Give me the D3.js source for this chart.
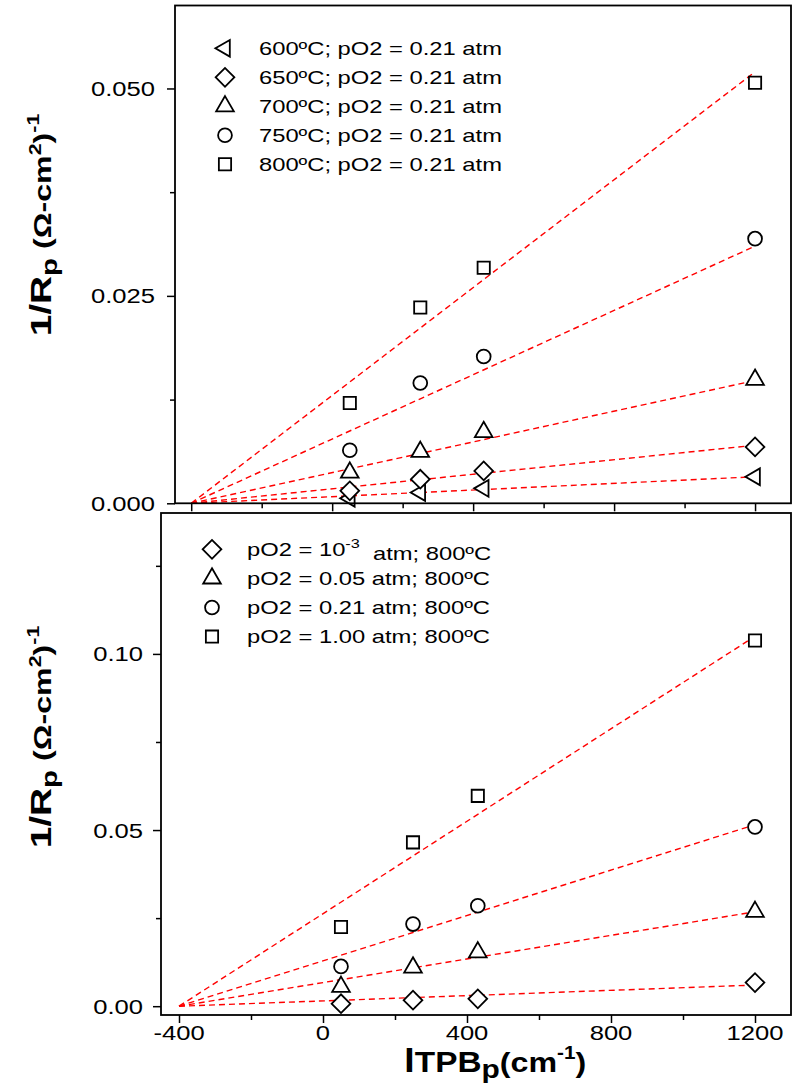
<!DOCTYPE html>
<html>
<head>
<meta charset="utf-8">
<script src="https://cdn.jsdelivr.net/npm/d3@7"></script>
<style>
  body { margin: 0; background: #fff; }
  svg { display: block; }
  text { font-family: "Liberation Sans", Arial, sans-serif; fill: #000; }
</style>
</head>
<body>
<svg id="chart" width="793" height="1086"></svg>
<script>
// shared x positions (l_TPB, cm^-1)
const xVals = [50, 250, 430, 1200]
const fitX = [-400, 1200]

// upper panel: temperature series, pO2 = 0.21 atm
const topNames = ['600ºC; pO2 = 0.21 atm', '650ºC; pO2 = 0.21 atm', '700ºC; pO2 = 0.21 atm',
    '750ºC; pO2 = 0.21 atm', '800ºC; pO2 = 0.21 atm']
const top600 = [0.0006, 0.0013, 0.0018, 0.0032]
const top650 = [0.0015, 0.0029, 0.0039, 0.0068]
const top700 = [0.0037, 0.0062, 0.0086, 0.0149]
const top750 = [0.0064, 0.0145, 0.0177, 0.0319]
const top800 = [0.0121, 0.0236, 0.0284, 0.0507]
// fitted lines: value at x = -400 and at x = 1200
const topFitStart = [0, 0, 0, 0, 0]
const topFitEnd = [0.0032, 0.0070, 0.0148, 0.0310, 0.0520]

// lower panel: pO2 series at 800 ºC
const botNames = ['pO2 = 10', 'pO2 = 0.05 atm; 800ºC', 'pO2 = 0.21 atm; 800ºC', 'pO2 = 1.00 atm; 800ºC']
const bot1e3 = [0.0007, 0.0017, 0.0021, 0.0067]
const bot005 = [0.0055, 0.0110, 0.0153, 0.0268]
const bot021 = [0.0113, 0.0233, 0.0285, 0.0509]
const bot100 = [0.0225, 0.0465, 0.0597, 0.1038]
const botFitStart = [0, 0, 0, 0]
const botFitEnd = [0.0060, 0.0268, 0.0515, 0.1050]

// axis ticks
const xMajor = [-400, 0, 400, 800, 1200]
const xMinor = [-200, 200, 600, 1000]
const xTickLabels = ['-400', '0', '400', '800', '1200']
const topYMajor = [0, 0.025, 0.05]
const topYMinor = [0.0125, 0.0375]
const topYLabels = ['0.000', '0.025', '0.050']
const botYMajor = [0, 0.05, 0.10]
const botYMinor = [0.025, 0.075, 0.125]
const botYLabels = ['0.00', '0.05', '0.10']

const svg = d3.select('#chart')
const K = 1.22 // horizontal stretch of the original lettering

const shapes = {
    left: { type: d3.symbolTriangle, size: 120, rot: -90 },
    diamond: { type: d3.symbolSquare, size: 175, rot: 45 },
    tri: { type: d3.symbolTriangle, size: 135, rot: 0 },
    circle: { type: d3.symbolCircle, size: 150, rot: 0 },
    square: { type: d3.symbolSquare, size: 150, rot: 0 }
}

function marker(g, shape, cx, cy) {
    const s = shapes[shape]
    g.append('path')
        .attr('d', d3.symbol().type(s.type).size(s.size)())
        .attr('transform', `translate(${cx},${cy}) rotate(${s.rot})`)
        .attr('fill', '#fff')
        .attr('stroke', '#000')
        .attr('stroke-width', 1.8)
}

function panel(opt) {
    const g = svg.append('g')
    const x = d3.scaleLinear().domain(opt.xDomain).range([opt.left, opt.right])
    const y = d3.scaleLinear().domain(opt.yDomain).range([opt.bottom, opt.top])

    // ticks (outward)
    const ax = (axis, vals, size, tr) => {
        const a = g.append('g').attr('transform', tr)
            .call(axis.tickValues(vals).tickSize(size).tickFormat(''))
        a.select('.domain').remove()
        a.selectAll('line').attr('stroke', '#000').attr('stroke-width', 1.5)
        return a
    }
    ax(d3.axisBottom(x), xMajor, 8, `translate(0,${opt.bottom})`)
    ax(d3.axisBottom(x), xMinor, 5, `translate(0,${opt.bottom})`)
    ax(d3.axisLeft(y), opt.yMajor, 8, `translate(${opt.left},0)`)
    ax(d3.axisLeft(y), opt.yMinor, 5, `translate(${opt.left},0)`)

    // y tick labels
    opt.yMajor.forEach((v, i) => {
        g.append('text')
            .attr('transform', `translate(${opt.yLabelRight},${y(v)}) scale(${K},1)`)
            .attr('text-anchor', 'end').attr('dy', '0.36em')
            .attr('font-size', 21)
            .text(opt.yLabels[i])
    })
    if (opt.xLabels) {
        xMajor.forEach((v, i) => {
            g.append('text')
                .attr('transform', `translate(${x(v)},${opt.bottom + 25}) scale(${K},1)`)
                .attr('text-anchor', 'middle')
                .attr('font-size', 21)
                .text(xTickLabels[i])
        })
    }

    // fitted lines
    opt.series.forEach((s, i) => {
        g.append('path')
            .attr('d', d3.line().x(d => x(d[0])).y(d => y(d[1]))([[fitX[0], opt.fitStart[i]], [fitX[1], opt.fitEnd[i]]]))
            .attr('fill', 'none')
            .attr('stroke', '#ff0000')
            .attr('stroke-width', 1.4)
            .attr('stroke-dasharray', '6,4')
    })

    // data markers
    opt.series.forEach(s => {
        s.values.forEach((v, j) => marker(g, s.shape, x(xVals[j]), y(v)))
    })

    // frame
    g.append('rect')
        .attr('x', opt.left).attr('y', opt.top)
        .attr('width', opt.right - opt.left).attr('height', opt.bottom - opt.top)
        .attr('fill', 'none').attr('stroke', '#000').attr('stroke-width', 1.8)

    // legend
    opt.series.forEach((s, i) => {
        const ly = opt.legendY + i * opt.legendStep
        marker(g, s.shape, opt.legendX, ly)
        const t = g.append('text')
            .attr('transform', `translate(${opt.legendX + opt.legendGap},${ly}) scale(1.25,1)`)
            .attr('dy', '0.36em')
            .attr('font-size', 19)
        if (s.sup) {
            t.append('tspan').text(s.name)
            t.append('tspan').attr('font-size', 13).attr('dy', '-0.6em').text('-3')
            t.append('tspan').attr('dy', '0.6em').text('\u00a0\u00a0atm; 800ºC')
        } else {
            t.text(s.name)
        }
    })

    // y axis title
    const yt = g.append('text')
        .attr('transform', `translate(${opt.yTitleX},${opt.yTitleY}) rotate(-90) scale(1.34,1)`)
        .attr('text-anchor', 'middle')
        .attr('font-weight', 'bold')
        .attr('font-size', 24)
    yt.append('tspan').attr('font-size', 29).text('1/R')
    yt.append('tspan').attr('font-size', 22).attr('dy', 6).text('p')
    yt.append('tspan').attr('dy', -6).text('\u00a0(Ω-cm')
    yt.append('tspan').attr('font-size', 16).attr('dy', -10).text('2')
    yt.append('tspan').attr('dy', 10).text(')')
    yt.append('tspan').attr('font-size', 16).attr('dy', -12).text('-1')
}

panel({
    left: 175, right: 791, top: 5.5, bottom: 503.3,
    xDomain: [-446, 1302], yDomain: [0, 0.06],
    yMajor: topYMajor, yMinor: topYMinor, yLabels: topYLabels, yLabelRight: 155,
    xLabels: false,
    fitStart: topFitStart, fitEnd: topFitEnd,
    series: [
        { name: topNames[0], values: top600, shape: 'left' },
        { name: topNames[1], values: top650, shape: 'diamond' },
        { name: topNames[2], values: top700, shape: 'tri' },
        { name: topNames[3], values: top750, shape: 'circle' },
        { name: topNames[4], values: top800, shape: 'square' }
    ],
    legendX: 225, legendY: 48.3, legendStep: 29, legendGap: 34,
    yTitleX: 51, yTitleY: 225
})

panel({
    left: 161, right: 791, top: 513, bottom: 1015,
    xDomain: [-450, 1300], yDomain: [-0.0025, 0.14],
    yMajor: botYMajor, yMinor: botYMinor, yLabels: botYLabels, yLabelRight: 143,
    xLabels: true,
    fitStart: botFitStart, fitEnd: botFitEnd,
    series: [
        { name: botNames[0], values: bot1e3, shape: 'diamond', sup: true },
        { name: botNames[1], values: bot005, shape: 'tri' },
        { name: botNames[2], values: bot021, shape: 'circle' },
        { name: botNames[3], values: bot100, shape: 'square' }
    ],
    legendX: 212, legendY: 549.3, legendStep: 29.1, legendGap: 35,
    yTitleX: 51, yTitleY: 737
})

// x axis title
const xt = svg.append('text')
    .attr('transform', 'translate(404,1072) scale(1.15,1)')
    .attr('font-weight', 'bold')
    .attr('font-size', 28)
xt.append('tspan').attr('font-size', 34).text('l')
xt.append('tspan').attr('font-size', 29).text('TPB')
xt.append('tspan').attr('font-size', 26).attr('dy', 6).text('p')
xt.append('tspan').attr('dy', -6).text('(cm')
xt.append('tspan').attr('font-size', 18).attr('dy', -13).text('-1')
xt.append('tspan').attr('dy', 13).text(')')
</script>
</body>
</html>
